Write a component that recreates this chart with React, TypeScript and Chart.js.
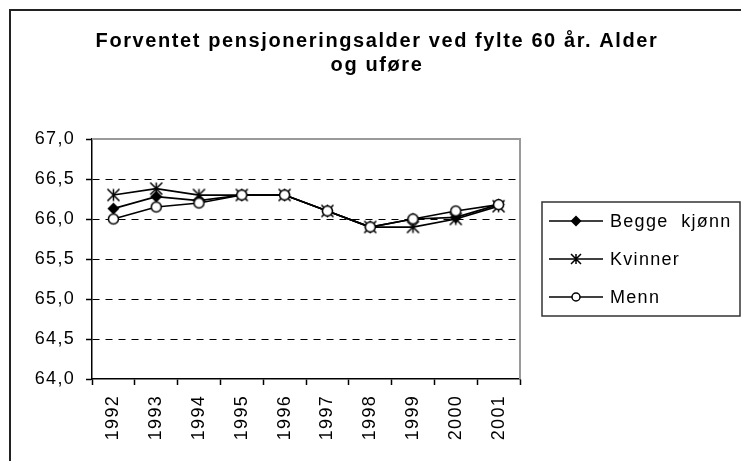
import React, { useEffect, useRef } from "react";
import { Chart, registerables } from "chart.js";

Chart.register(...registerables);

const years = ["1992", "1993", "1994", "1995", "1996", "1997", "1998", "1999", "2000", "2001"];
const beggeKjonn = [66.13, 66.28, 66.23, 66.3, 66.3, 66.1, 65.9, 66.0, 66.02, 66.18];
const kvinner = [66.3, 66.38, 66.3, 66.3, 66.3, 66.1, 65.9, 65.9, 66.0, 66.16];
const menn = [66.0, 66.15, 66.2, 66.3, 66.3, 66.1, 65.9, 66.0, 66.1, 66.18];
const seriesNames = ["Begge  kjønn", "Kvinner", "Menn"];
const titleLines = ["Forventet pensjoneringsalder ved fylte 60 år. Alder", "og uføre"];
const yMin = 64;
const yMax = 67;
const yStep = 0.5;

const FONT = "Arial, 'Liberation Sans', sans-serif";
const SPACING = "1.3px";

function drawStar(ctx: CanvasRenderingContext2D, x: number, y: number, r: number) {
  ctx.save();
  ctx.strokeStyle = "#000";
  ctx.lineWidth = 1.5;
  ctx.beginPath();
  ctx.moveTo(x, y - r);
  ctx.lineTo(x, y + r);
  ctx.moveTo(x - r, y - r);
  ctx.lineTo(x + r, y + r);
  ctx.moveTo(x - r, y + r);
  ctx.lineTo(x + r, y - r);
  ctx.stroke();
  ctx.restore();
}
function drawDiamond(ctx: CanvasRenderingContext2D, x: number, y: number, r: number) {
  ctx.save();
  ctx.fillStyle = "#000";
  ctx.beginPath();
  ctx.moveTo(x, y - r);
  ctx.lineTo(x + r, y);
  ctx.lineTo(x, y + r);
  ctx.lineTo(x - r, y);
  ctx.closePath();
  ctx.fill();
  ctx.restore();
}
function drawCircle(ctx: CanvasRenderingContext2D, x: number, y: number, r: number) {
  ctx.save();
  ctx.fillStyle = "#fff";
  ctx.strokeStyle = "#000";
  ctx.lineWidth = 1.5;
  ctx.beginPath();
  ctx.arc(x, y, r, 0, Math.PI * 2);
  ctx.fill();
  ctx.stroke();
  ctx.restore();
}

function makeMarker(kind: string): HTMLCanvasElement {
  const c = document.createElement("canvas");
  c.width = 15;
  c.height = 15;
  const ctx = c.getContext("2d")!;
  if (kind === "star") drawStar(ctx, 7.5, 7.5, 6);
  else if (kind === "diamond") drawDiamond(ctx, 7.5, 7.5, 6);
  else drawCircle(ctx, 7.5, 7.5, 5);
  return c;
}

export default function App() {
  const ref = useRef<HTMLCanvasElement | null>(null);
  useEffect(() => {
    if (!ref.current) return;
    const markers = [makeMarker("diamond"), makeMarker("star"), makeMarker("circle")];
    const decor = {
      id: "decor",
      beforeDraw(chart: any) {
        (chart.ctx as any).letterSpacing = SPACING;
      },
      beforeDatasetsDraw(chart: any) {
        const { ctx, chartArea } = chart;
        ctx.save();
        ctx.strokeStyle = "#9a9a9a";
        ctx.lineWidth = 2;
        ctx.beginPath();
        ctx.moveTo(chartArea.left, chartArea.top);
        ctx.lineTo(chartArea.right, chartArea.top);
        ctx.lineTo(chartArea.right, chartArea.bottom);
        ctx.stroke();
        ctx.restore();
      },
      afterDraw(chart: any) {
        const ctx: any = chart.ctx;
        ctx.save();
        // outer frame
        ctx.strokeStyle = "#222";
        ctx.lineWidth = 2;
        ctx.strokeRect(10, 10, 900, 900);
        // title
        ctx.fillStyle = "#000";
        ctx.font = "bold 20px " + FONT;
        ctx.letterSpacing = "1.6px";
        ctx.textAlign = "center";
        ctx.textBaseline = "alphabetic";
        ctx.fillText(titleLines[0], 377, 47);
        ctx.fillText(titleLines[1], 377, 71);
        // legend
        ctx.letterSpacing = SPACING;
        ctx.strokeStyle = "#333";
        ctx.lineWidth = 1.5;
        ctx.strokeRect(542, 202, 198, 114);
        const rows = [221, 259, 297];
        ctx.font = "18px " + FONT;
        ctx.textAlign = "left";
        ctx.textBaseline = "middle";
        for (let i = 0; i < 3; i++) {
          const y = rows[i];
          ctx.strokeStyle = "#000";
          ctx.lineWidth = 1.5;
          ctx.beginPath();
          ctx.moveTo(549, y);
          ctx.lineTo(603, y);
          ctx.stroke();
          if (i === 0) drawDiamond(ctx, 576, y, 5.5);
          else if (i === 1) drawStar(ctx, 576, y, 5);
          else drawCircle(ctx, 576, y, 4);
          ctx.fillStyle = "#000";
          ctx.fillText(seriesNames[i], 610, y + 1);
        }
        ctx.restore();
      },
    };
    const mk = (label: string, data: number[], idx: number, order: number) => ({
      label,
      data,
      borderColor: "#000",
      backgroundColor: "#000",
      borderWidth: 1.75,
      pointStyle: markers[idx],
      pointRadius: 6,
      tension: 0,
      order,
    });
    const chart = new Chart(ref.current, {
      type: "line",
      data: {
        labels: years,
        datasets: [mk(seriesNames[0], beggeKjonn, 0, 2), mk(seriesNames[1], kvinner, 1, 1), mk(seriesNames[2], menn, 2, 0)],
      },
      options: {
        animation: false,
        responsive: false,
        events: [],
        layout: { padding: { top: 139, right: 221, left: 0, bottom: 0 } },
        plugins: { legend: { display: false }, title: { display: false }, tooltip: { enabled: false } },
        scales: {
          x: {
            offset: true,
            afterFit(scale: any) {
              scale.height = 82;
            },
            border: { color: "#000", width: 1.5 },
            grid: { offset: true, drawOnChartArea: false, drawTicks: true, tickLength: 6, tickColor: "#000", tickWidth: 1.5 },
            ticks: { color: "#000", font: { family: FONT, size: 18 }, minRotation: 90, maxRotation: 90, padding: 10, autoSkip: false },
          },
          y: {
            min: yMin,
            max: yMax,
            afterFit(scale: any) {
              scale.width = 92;
            },
            border: { color: "#000", width: 1.5, dash: [7, 6] },
            grid: {
              color: (c: any) => (c.tick && (c.tick.value === yMin || c.tick.value === yMax) ? "rgba(0,0,0,0)" : "#000"),
              lineWidth: 1,
              drawTicks: true,
              tickLength: 6,
              tickColor: "#000",
              tickWidth: 1.5,
              tickBorderDash: [],
            },
            ticks: {
              stepSize: yStep,
              color: "#000",
              font: { family: FONT, size: 18 },
              padding: 11,
              callback: (v: any) => Number(v).toFixed(1).replace(".", ","),
            },
          },
        },
      },
      plugins: [decor],
    });
    return () => chart.destroy();
  }, []);
  return (
    <div style={{ position: "fixed", left: 0, top: 0, width: 741, height: 461, background: "#fff" }}>
      <canvas ref={ref} width={741} height={461} style={{ display: "block" }} />
    </div>
  );
}
